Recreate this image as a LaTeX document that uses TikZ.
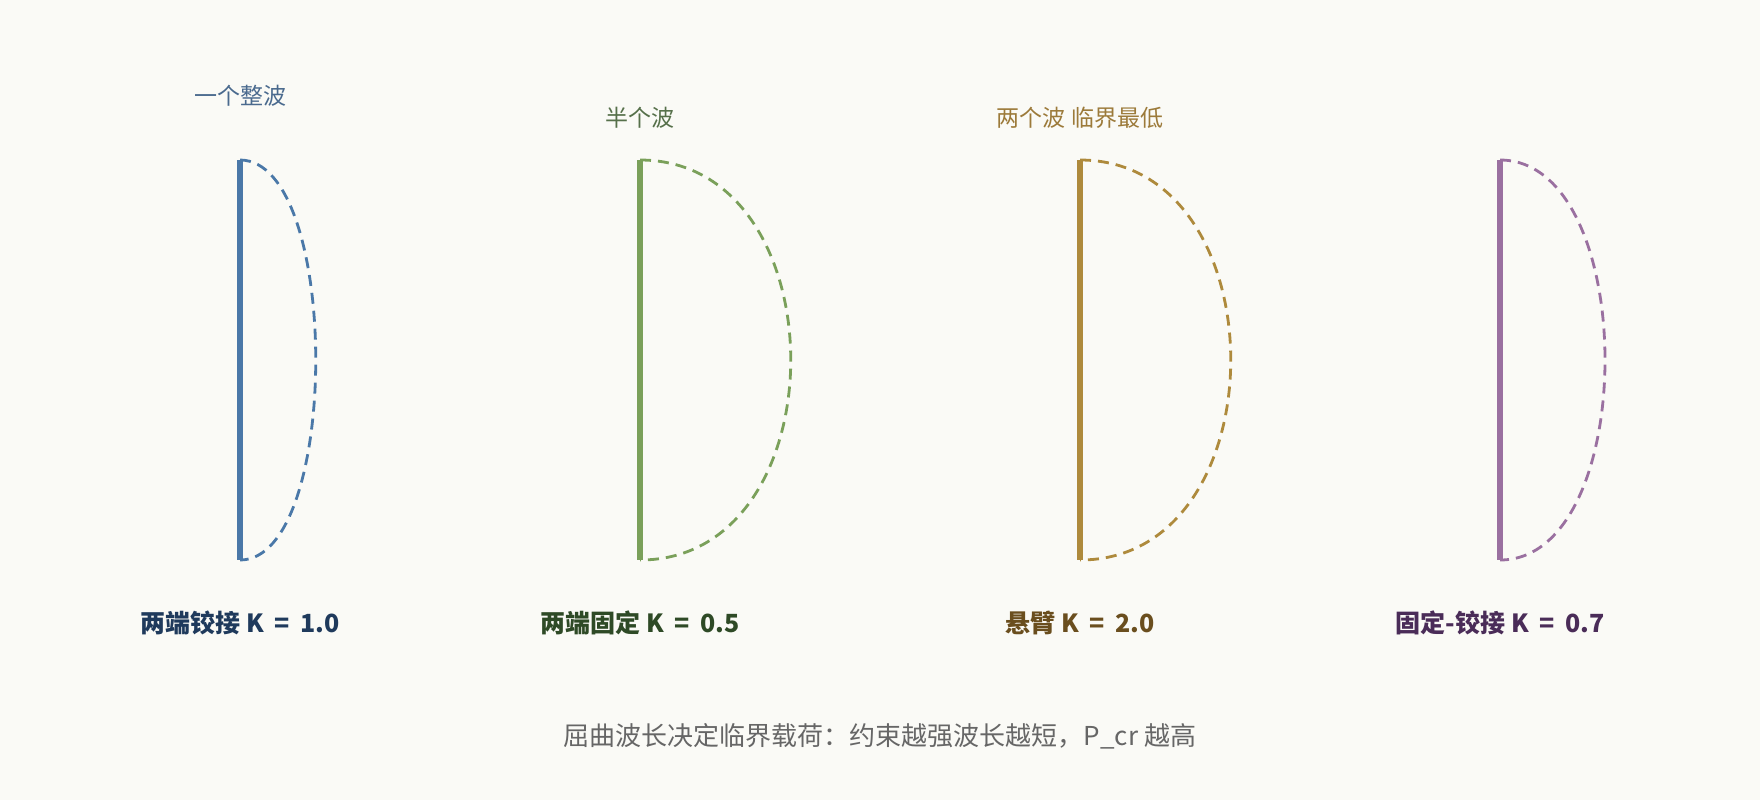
\documentclass[tikz,border=0pt]{standalone}
\usepackage{fontspec}
\newfontfamily\cjk{Noto Sans CJK SC}
\definecolor{bg}{HTML}{FAFAF6}
\definecolor{cblue}{HTML}{4A78A8}
\definecolor{cgreen}{HTML}{7AA05A}
\definecolor{cgold}{HTML}{AE8A3C}
\definecolor{cpurple}{HTML}{9A70A0}
\definecolor{tblue}{HTML}{4A6A8E}
\definecolor{tgreen}{HTML}{56704A}
\definecolor{tgold}{HTML}{9C7A3A}
\definecolor{dblue}{HTML}{1F3A5C}
\definecolor{dgreen}{HTML}{2E4A26}
\definecolor{dgold}{HTML}{6A4E1E}
\definecolor{dpurple}{HTML}{4A2C58}
\definecolor{capc}{HTML}{666666}
\newcommand\kval[2]{#1\hspace{0.25em}K\hspace{0.42em}=\hspace{0.42em}#2}
\begin{document}
\begin{tikzpicture}[x=0.5pt,y=-0.5pt,
  colline/.style={line width=2.6pt},
  wave/.style={line width=1.4pt, dash pattern=on 5.5pt off 3.5pt},
  toplab/.style={inner sep=0pt, font={\cjk\fontsize{11.5}{14}\selectfont}},
  botlab/.style={inner sep=0pt, font={\cjk\bfseries\fontsize{12.5}{15}\selectfont}},
  caplab/.style={inner sep=0pt, text=capc, font={\cjk\fontsize{13}{16}\selectfont}}]
\fill[bg] (0,0) rectangle (1760,800);
\useasboundingbox (0,0) rectangle (1760,800);
% column 1
\coordinate (a1) at (240,160); \coordinate (a2) at (240,560);
\draw[colline, cblue] (a1) -- (a2);
\draw[wave, cblue] (a1) .. controls +(101,0) and +(101,0) .. (a2);
\node[toplab, text=tblue] (t1) at (240,96) {一个整波};
\node[botlab, text=dblue] (l1) at (240,623) {\kval{两端铰接}{1.0}};
% column 2
\coordinate (b1) at (640,160); \coordinate (b2) at (640,560);
\draw[colline, cgreen] (b1) -- (b2);
\draw[wave, cgreen] (b1) .. controls +(201,0) and +(201,0) .. (b2);
\node[toplab, text=tgreen] (t2) at (640,118) {半个波};
\node[botlab, text=dgreen] (l2) at (640,623) {\kval{两端固定}{0.5}};
% column 3
\coordinate (c1) at (1080,160); \coordinate (c2) at (1080,560);
\draw[colline, cgold] (c1) -- (c2);
\draw[wave, cgold] (c1) .. controls +(201,0) and +(201,0) .. (c2);
\node[toplab, text=tgold] (t3) at (1080,118) {两个波 临界最低};
\node[botlab, text=dgold] (l3) at (1080,623) {\kval{悬臂}{2.0}};
% column 4
\coordinate (d1) at (1500,160); \coordinate (d2) at (1500,560);
\draw[colline, cpurple] (d1) -- (d2);
\draw[wave, cpurple] (d1) .. controls +(140,0) and +(140,0) .. (d2);
\node[botlab, text=dpurple] (l4) at (1500,623) {\kval{固定-铰接}{0.7}};
% caption
\node[caplab] (cap) at (880,736) {屈曲波长决定临界载荷：约束越强波长越短，P\_cr 越高};
\end{tikzpicture}
\end{document}
